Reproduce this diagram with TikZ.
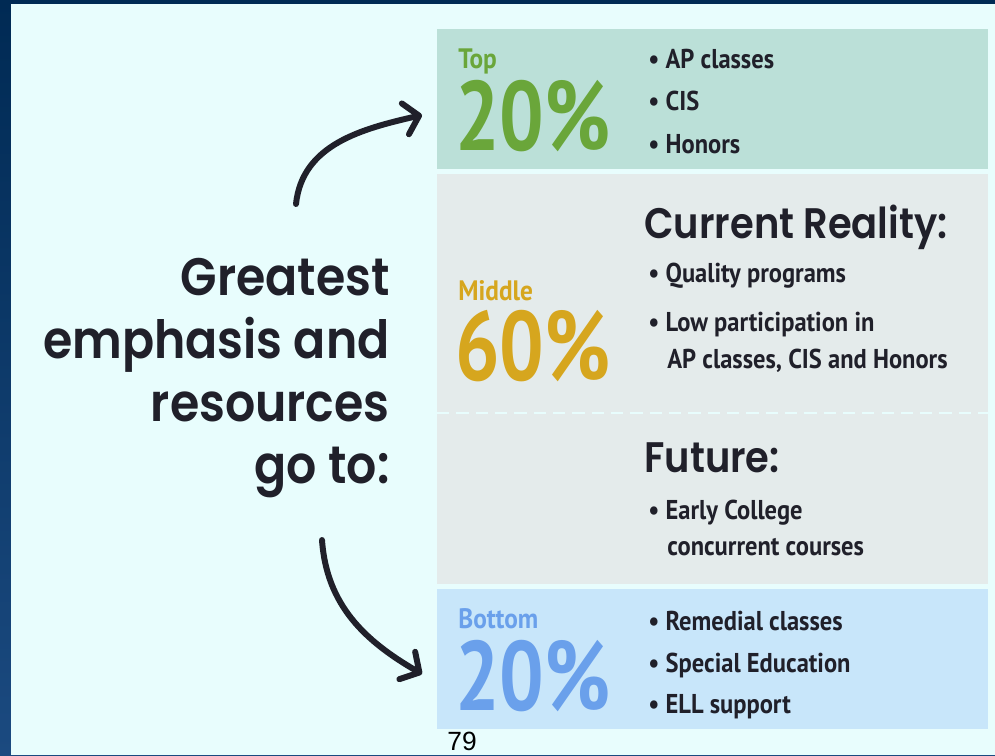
\documentclass[tikz,border=0pt]{standalone}
\usepackage{fontspec}
\usetikzlibrary{arrows.meta}
\newfontfamily\condfont[FakeStretch=0.8]{PT Sans}
\newfontfamily\itemfont[FakeStretch=0.9]{PT Sans}
\newfontfamily\handfont[FakeStretch=0.9, BoldFont={Poppins SemiBold}]{Poppins}
\setsansfont{Liberation Sans}
\definecolor{bgnavy}{RGB}{0,42,84}
\definecolor{bgnavylow}{RGB}{27,74,128}
\definecolor{bglight}{RGB}{232,253,253}
\definecolor{topfill}{RGB}{187,224,216}
\definecolor{midfill}{RGB}{228,235,235}
\definecolor{botfill}{RGB}{200,230,250}
\definecolor{topgreen}{RGB}{106,166,58}
\definecolor{midgold}{RGB}{214,166,30}
\definecolor{botblue}{RGB}{106,160,235}
\definecolor{ink}{RGB}{32,32,42}
\begin{document}
\begin{tikzpicture}[
  x=0.02cm, y=-0.02cm,
  tier/.style={font=\itemfont\bfseries\fontsize{16}{16}\selectfont, anchor=base west, inner sep=0pt},
  share/.style={font=\condfont\bfseries\fontsize{56}{56}\selectfont, anchor=base west, inner sep=0pt, text depth=0pt},
  item/.style={font=\itemfont\bfseries\fontsize{15.5}{15.5}\selectfont, text=ink, anchor=base west, inner sep=0pt},
  head/.style={font=\handfont\bfseries\fontsize{24.3}{24.3}\selectfont, text=ink, anchor=base west, inner sep=0pt},
  curly/.style={line width=3.4pt, draw=ink, line cap=round,
    -{Straight Barb[length=8pt, width=18pt, round]}}
]
  \useasboundingbox (0,0) rectangle (995,755);

  % fondo
  \shade[top color=bgnavy, bottom color=bgnavylow] (0,0) rectangle (995,755);
  \fill[bglight] (11,4) rectangle (995,755);

  % bandas
  \fill[topfill] (437,29) rectangle (988,169);
  \fill[midfill] (437,174) rectangle (988,584);
  \fill[botfill] (437,589) rectangle (988,729);
  \draw[bglight, line width=1.2pt, dash pattern=on 7pt off 4pt] (437,413) -- (988,413);

  % izquierda
  \node[font=\handfont\bfseries\fontsize{30}{35.7}\selectfont, text=ink, align=right,
    anchor=north east, inner sep=0pt] (emph) at (390,258)
    {Greatest\\emphasis and\\resources\\go to:};

  % porcentajes
  \node[tier, text=topgreen] (toplbl) at (458,68) {Top};
  \node[share, text=topgreen] (toppct) at (455,150) {20\%};
  \node[tier, text=midgold] (midlbl) at (458,300) {Middle};
  \node[share, text=midgold] (midpct) at (455,380) {60\%};
  \node[tier, text=botblue] (botlbl) at (458,628) {Bottom};
  \node[share, text=botblue] (botpct) at (455,710) {20\%};

  % listas
  \node[item] (ap) at (648,68) {• AP classes};
  \node[item] (cis) at (648,110) {• CIS};
  \node[item] (hon) at (648,153) {• Honors};
  \node[head] (now) at (644,238) {Current Reality:};
  \node[item] (qual) at (648,282) {• Quality programs};
  \node[item, align=left] (low) at (648,368) {• Low participation in\\[5pt]\hspace{0.7em}AP classes, CIS and Honors};
  \node[head] (fut) at (644,472) {Future:};
  \node[item, align=left] (early) at (648,555) {• Early College\\[4.5pt]\hspace{0.7em}concurrent courses};
  \node[item] (rem) at (648,630) {• Remedial classes};
  \node[item] (spec) at (648,672) {• Special Education};
  \node[item] (ell) at (648,713) {• ELL support};

  % flechas
  \coordinate (upfrom) at (296,204);
  \coordinate (upto) at (422,115);
  \coordinate (downfrom) at (322,540);
  \coordinate (downto) at (422,674);
  \draw[curly] (upfrom) to[out=84, in=193] (upto);
  \draw[curly] (downfrom) to[out=-86, in=150] (downto);

  % pagina
  \node[font=\sffamily\fontsize{15}{15}\selectfont, anchor=base west, inner sep=0pt, text depth=0pt] (page) at (447,750) {79};
\end{tikzpicture}
\end{document}
